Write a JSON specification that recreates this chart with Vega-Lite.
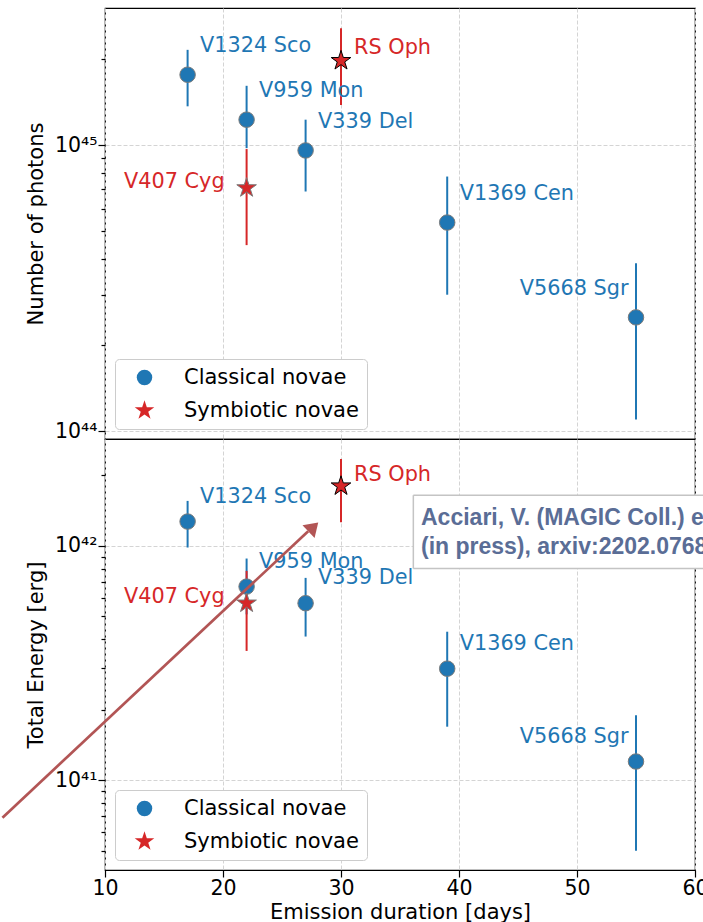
{
  "$schema": "https://vega.github.io/schema/vega-lite/v6.json",
  "padding": {"left": 0, "top": 7, "right": 0, "bottom": 0},
  "background": "white",
  "config": {
    "font": "DejaVu Sans",
    "view": {"stroke": "black", "strokeWidth": 1.2},
    "axis": {
      "labelFont": "DejaVu Sans", "titleFont": "DejaVu Sans",
      "labelColor": "black", "titleColor": "black",
      "labelFontSize": 20.5, "titleFontSize": 21, "titleFontWeight": "normal",
      "tickColor": "black", "tickWidth": 1.2, "domain": false,
      "gridColor": "#d4d4d4", "gridDash": [4, 2], "gridWidth": 1
    },
    "legend": {
      "title": null, "orient": "bottom-left", "offset": 10, "padding": 8,
      "fillColor": "white", "strokeColor": "#cccccc", "cornerRadius": 4,
      "labelFont": "DejaVu Sans", "labelFontSize": 21, "labelColor": "black",
      "symbolSize": 240, "symbolStrokeColor": "#7a7a7a", "symbolStrokeWidth": 1,
      "symbolOpacity": 1, "rowPadding": 10, "labelOffset": 29, "symbolOffset": 11, "labelLimit": 400
    }
  },
  "datasets": {
    "photons": [
      {"name": "V1324 Sco", "type": "Classical novae", "duration": 17, "value": 1.76e45, "lo": 1.365e45, "hi": 2.15e45},
      {"name": "V959 Mon", "type": "Classical novae", "duration": 22, "value": 1.226e45, "lo": 0.975e45, "hi": 1.61e45},
      {"name": "V339 Del", "type": "Classical novae", "duration": 27, "value": 9.57e44, "lo": 6.88e44, "hi": 1.226e45},
      {"name": "V1369 Cen", "type": "Classical novae", "duration": 39, "value": 5.36e44, "lo": 3.0e44, "hi": 7.76e44},
      {"name": "V5668 Sgr", "type": "Classical novae", "duration": 55, "value": 2.5e44, "lo": 1.1e44, "hi": 3.86e44},
      {"name": "RS Oph", "type": "Symbiotic novae", "duration": 30, "value": 1.97e45, "lo": 1.38e45, "hi": 2.56e45},
      {"name": "V407 Cyg", "type": "Symbiotic novae", "duration": 22, "value": 7.08e44, "lo": 4.47e44, "hi": 9.68e44}
    ],
    "energy": [
      {"name": "V1324 Sco", "type": "Classical novae", "duration": 17, "value": 1.27e42, "lo": 0.984e42, "hi": 1.556e42},
      {"name": "V959 Mon", "type": "Classical novae", "duration": 22, "value": 6.7e41, "lo": 5.1e41, "hi": 8.83e41},
      {"name": "V339 Del", "type": "Classical novae", "duration": 27, "value": 5.69e41, "lo": 4.1e41, "hi": 7.3e41},
      {"name": "V1369 Cen", "type": "Classical novae", "duration": 39, "value": 2.99e41, "lo": 1.69e41, "hi": 4.3e41},
      {"name": "V5668 Sgr", "type": "Classical novae", "duration": 55, "value": 1.2e41, "lo": 4.99e40, "hi": 1.89e41},
      {"name": "RS Oph", "type": "Symbiotic novae", "duration": 30, "value": 1.8e42, "lo": 1.26e42, "hi": 2.35e42},
      {"name": "V407 Cyg", "type": "Symbiotic novae", "duration": 22, "value": 5.69e41, "lo": 3.56e41, "hi": 7.82e41}
    ]
  },
  "spacing": 0,
  "bounds": "flush",
  "resolve": {
    "scale": {"y": "independent", "color": "independent", "shape": "independent"},
    "legend": {"color": "independent", "shape": "independent"}
  },
  "vconcat": [
    {
      "width": 590, "height": 431,
      "layer": [
        {
          "data": {"name": "photons"},
          "mark": {"type": "rule", "strokeWidth": 2},
          "encoding": {
            "x": {"field": "duration", "type": "quantitative", "title": null,
              "scale": {"domain": [10, 60], "nice": false, "zero": false},
              "axis": {"labels": false, "ticks": false, "title": null, "grid": true, "values": [10, 20, 30, 40, 50, 60]}},
            "y": {"field": "lo", "type": "quantitative", "title": "Number of photons",
              "scale": {"type": "log", "domain": [9.4e43, 3.01e45], "nice": false},
              "axis": {
                "values": [1e44, 2e44, 3e44, 4e44, 5e44, 6e44, 7e44, 8e44, 9e44, 1e45, 2e45],
                "labelExpr": "datum.value === 1e44 ? '10⁴⁴' : datum.value === 1e45 ? '10⁴⁵' : ''",
                "tickSize": {"condition": {"test": "datum.value === 1e44 || datum.value === 1e45", "value": 7}, "value": 4},
                "gridOpacity": {"condition": {"test": "datum.value === 1e44 || datum.value === 1e45", "value": 1}, "value": 0},
                "labelPadding": 1, "titlePadding": 8, "labelOverlap": false, "grid": true
              }},
            "y2": {"field": "hi"},
            "color": {"condition": {"test": "datum.type === 'Symbiotic novae'", "value": "#d62728"}, "value": "#1f77b4"}
          }
        },
        {
          "data": {"name": "photons"},
          "mark": {"type": "point", "filled": true, "opacity": 1, "strokeWidth": 1, "size": 240},
          "encoding": {
            "x": {"field": "duration", "type": "quantitative", "title": null},
            "y": {"field": "value", "type": "quantitative", "title": "Number of photons"},
            "color": {"field": "type", "type": "nominal",
              "scale": {"domain": ["Classical novae", "Symbiotic novae"], "range": ["#1f77b4", "#d62728"]}},
            "shape": {"field": "type", "type": "nominal",
              "scale": {"domain": ["Classical novae", "Symbiotic novae"], "range": ["circle", "M0,-1.33L0.299,-0.411L1.265,-0.411L0.483,0.157L0.782,1.076L0,0.508L-0.782,1.076L-0.483,0.157L-1.265,-0.411L-0.299,-0.411Z"]}},
            "stroke": {"condition": {"test": "datum.name === 'RS Oph'", "value": "black"}, "value": "#7a7a7a"}
          }
        },
        {
          "data": {"name": "photons"},
          "transform": [{"filter": {"field": "name", "oneOf": ["V1324 Sco", "V959 Mon", "V339 Del", "V1369 Cen"]}}],
          "mark": {"type": "text", "align": "left", "baseline": "alphabetic", "dx": 12.5, "dy": -22.5, "fontSize": 20.8, "color": "#1f77b4"},
          "encoding": {
            "x": {"field": "duration", "type": "quantitative", "title": null},
            "y": {"field": "value", "type": "quantitative", "title": "Number of photons"},
            "text": {"field": "name"}
          }
        },
        {
          "data": {"name": "photons"},
          "transform": [{"filter": "datum.name === 'RS Oph'"}],
          "mark": {"type": "text", "align": "left", "baseline": "alphabetic", "dx": 13, "dy": -6.5, "fontSize": 20.8, "color": "#d62728"},
          "encoding": {
            "x": {"field": "duration", "type": "quantitative", "title": null},
            "y": {"field": "value", "type": "quantitative", "title": "Number of photons"},
            "text": {"field": "name"}
          }
        },
        {
          "data": {"name": "photons"},
          "transform": [{"filter": "datum.name === 'V407 Cyg'"}],
          "mark": {"type": "text", "align": "right", "baseline": "alphabetic", "dx": -22, "dy": 0, "fontSize": 20.8, "color": "#d62728"},
          "encoding": {
            "x": {"field": "duration", "type": "quantitative", "title": null},
            "y": {"field": "value", "type": "quantitative", "title": "Number of photons"},
            "text": {"field": "name"}
          }
        },
        {
          "data": {"name": "photons"},
          "transform": [{"filter": "datum.name === 'V5668 Sgr'"}],
          "mark": {"type": "text", "align": "right", "baseline": "alphabetic", "dx": -7.5, "dy": -22, "fontSize": 20.8, "color": "#1f77b4"},
          "encoding": {
            "x": {"field": "duration", "type": "quantitative", "title": null},
            "y": {"field": "value", "type": "quantitative", "title": "Number of photons"},
            "text": {"field": "name"}
          }
        }
      ]
    },
    {
      "width": 590, "height": 431,
      "layer": [
        {
          "data": {"name": "energy"},
          "mark": {"type": "rule", "strokeWidth": 2},
          "encoding": {
            "x": {"field": "duration", "type": "quantitative", "title": "Emission duration [days]",
              "scale": {"domain": [10, 60], "nice": false, "zero": false},
              "axis": {"values": [10, 20, 30, 40, 50, 60], "format": "d", "tickSize": 7, "labelPadding": 1, "titlePadding": 3, "labelFlush": false, "grid": true, "labelOverlap": false}},
            "y": {"field": "lo", "type": "quantitative", "title": "Total Energy [erg]",
              "scale": {"type": "log", "domain": [4.13e40, 2.86e42], "nice": false},
              "axis": {
                "values": [5e40, 6e40, 7e40, 8e40, 9e40, 1e41, 2e41, 3e41, 4e41, 5e41, 6e41, 7e41, 8e41, 9e41, 1e42, 2e42],
                "labelExpr": "datum.value === 1e41 ? '10⁴¹' : datum.value === 1e42 ? '10⁴²' : ''",
                "tickSize": {"condition": {"test": "datum.value === 1e41 || datum.value === 1e42", "value": 7}, "value": 4},
                "gridOpacity": {"condition": {"test": "datum.value === 1e41 || datum.value === 1e42", "value": 1}, "value": 0},
                "labelPadding": 1, "titlePadding": 8, "labelOverlap": false, "grid": true
              }},
            "y2": {"field": "hi"},
            "color": {"condition": {"test": "datum.type === 'Symbiotic novae'", "value": "#d62728"}, "value": "#1f77b4"}
          }
        },
        {
          "data": {"name": "energy"},
          "mark": {"type": "point", "filled": true, "opacity": 1, "strokeWidth": 1, "size": 240},
          "encoding": {
            "x": {"field": "duration", "type": "quantitative", "title": "Emission duration [days]"},
            "y": {"field": "value", "type": "quantitative", "title": "Total Energy [erg]"},
            "color": {"field": "type", "type": "nominal",
              "scale": {"domain": ["Classical novae", "Symbiotic novae"], "range": ["#1f77b4", "#d62728"]}},
            "shape": {"field": "type", "type": "nominal",
              "scale": {"domain": ["Classical novae", "Symbiotic novae"], "range": ["circle", "M0,-1.33L0.299,-0.411L1.265,-0.411L0.483,0.157L0.782,1.076L0,0.508L-0.782,1.076L-0.483,0.157L-1.265,-0.411L-0.299,-0.411Z"]}},
            "stroke": {"condition": {"test": "datum.name === 'RS Oph'", "value": "black"}, "value": "#7a7a7a"}
          }
        },
        {
          "data": {"name": "energy"},
          "transform": [{"filter": {"field": "name", "oneOf": ["V1324 Sco", "V959 Mon", "V339 Del", "V1369 Cen"]}}],
          "mark": {"type": "text", "align": "left", "baseline": "alphabetic", "dx": 12.5, "dy": -19, "fontSize": 20.8, "color": "#1f77b4"},
          "encoding": {
            "x": {"field": "duration", "type": "quantitative", "title": "Emission duration [days]"},
            "y": {"field": "value", "type": "quantitative", "title": "Total Energy [erg]"},
            "text": {"field": "name"}
          }
        },
        {
          "data": {"name": "energy"},
          "transform": [{"filter": "datum.name === 'RS Oph'"}],
          "mark": {"type": "text", "align": "left", "baseline": "alphabetic", "dx": 13, "dy": -5, "fontSize": 20.8, "color": "#d62728"},
          "encoding": {
            "x": {"field": "duration", "type": "quantitative", "title": "Emission duration [days]"},
            "y": {"field": "value", "type": "quantitative", "title": "Total Energy [erg]"},
            "text": {"field": "name"}
          }
        },
        {
          "data": {"name": "energy"},
          "transform": [{"filter": "datum.name === 'V407 Cyg'"}],
          "mark": {"type": "text", "align": "right", "baseline": "alphabetic", "dx": -22, "dy": 0, "fontSize": 20.8, "color": "#d62728"},
          "encoding": {
            "x": {"field": "duration", "type": "quantitative", "title": "Emission duration [days]"},
            "y": {"field": "value", "type": "quantitative", "title": "Total Energy [erg]"},
            "text": {"field": "name"}
          }
        },
        {
          "data": {"name": "energy"},
          "transform": [{"filter": "datum.name === 'V5668 Sgr'"}],
          "mark": {"type": "text", "align": "right", "baseline": "alphabetic", "dx": -7.5, "dy": -18.5, "fontSize": 20.8, "color": "#1f77b4"},
          "encoding": {
            "x": {"field": "duration", "type": "quantitative", "title": "Emission duration [days]"},
            "y": {"field": "value", "type": "quantitative", "title": "Total Energy [erg]"},
            "text": {"field": "name"}
          }
        },
        {
          "data": {"values": [{"x1": 36.13, "x2": 63, "y1": 8.0e41, "y2": 1.646e42}]},
          "mark": {"type": "rect", "fill": "white", "strokeWidth": 0},
          "encoding": {
            "x": {"field": "x1", "type": "quantitative", "title": "Emission duration [days]"},
            "x2": {"field": "x2"},
            "y": {"field": "y1", "type": "quantitative", "title": "Total Energy [erg]"},
            "y2": {"field": "y2"}
          }
        },
        {
          "data": {"values": [
            {"x1": 36.13, "x2": 63, "y1": 1.646e42, "y2": 1.646e42},
            {"x1": 36.13, "x2": 63, "y1": 8.0e41, "y2": 8.0e41},
            {"x1": 36.13, "x2": 36.13, "y1": 8.0e41, "y2": 1.646e42}
          ]},
          "mark": {"type": "rule", "stroke": "#c4c4c4", "strokeWidth": 1.5},
          "encoding": {
            "x": {"field": "x1", "type": "quantitative", "title": "Emission duration [days]"},
            "x2": {"field": "x2"},
            "y": {"field": "y1", "type": "quantitative", "title": "Total Energy [erg]"},
            "y2": {"field": "y2"}
          }
        },
        {
          "data": {"values": [
            {"x": 36.78, "y": 1.2255e42, "label": "Acciari, V. (MAGIC Coll.) et al."},
            {"x": 36.78, "y": 9.22e41, "label": "(in press), arxiv:2202.07681"}
          ]},
          "mark": {"type": "text", "align": "left", "baseline": "alphabetic", "font": "Liberation Sans", "fontWeight": "bold", "fontSize": 23, "color": "#5a6d96"},
          "encoding": {
            "x": {"field": "x", "type": "quantitative", "title": "Emission duration [days]"},
            "y": {"field": "y", "type": "quantitative", "title": "Total Energy [erg]"},
            "text": {"field": "label"}
          }
        },
        {
          "data": {"values": [{"x1": 1.31, "y1": 6.91e40, "x2": 27.22, "y2": 1.155e42}]},
          "mark": {"type": "rule", "stroke": "#b25555", "strokeWidth": 2.7},
          "encoding": {
            "x": {"field": "x1", "type": "quantitative", "title": "Emission duration [days]"},
            "x2": {"field": "x2"},
            "y": {"field": "y1", "type": "quantitative", "title": "Total Energy [erg]"},
            "y2": {"field": "y2"}
          }
        },
        {
          "data": {"values": [{"x": 27.66, "y": 1.203e42}]},
          "mark": {"type": "point", "shape": "M0,-0.75L1,0.75L-1,0.75Z", "size": 313, "angle": 47, "filled": true, "opacity": 1, "color": "#b25555", "strokeWidth": 0},
          "encoding": {
            "x": {"field": "x", "type": "quantitative", "title": "Emission duration [days]"},
            "y": {"field": "y", "type": "quantitative", "title": "Total Energy [erg]"}
          }
        }
      ]
    }
  ]
}
